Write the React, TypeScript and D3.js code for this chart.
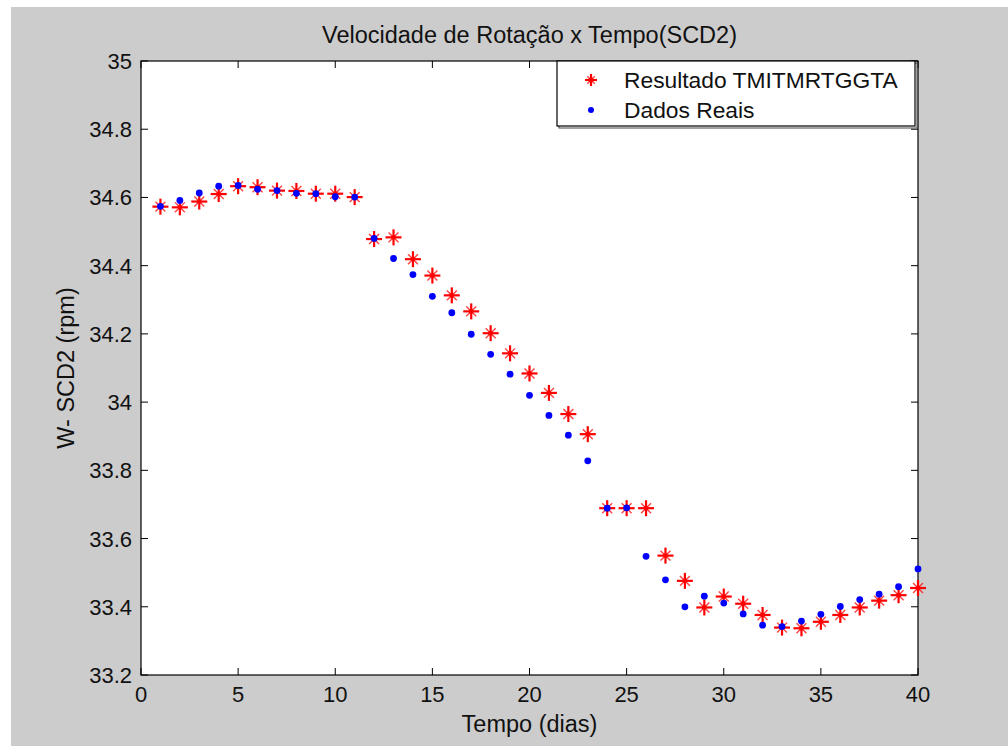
import React from "react";
import * as d3 from "d3";

const days = Array.from({ length: 40 }, (_, i) => i + 1);
const resultado = [
  34.573, 34.571, 34.588, 34.610, 34.633, 34.630, 34.620, 34.619, 34.611, 34.611,
  34.601, 34.478, 34.483, 34.419, 34.371, 34.313, 34.266, 34.202, 34.143, 34.084,
  34.027, 33.965, 33.906, 33.689, 33.689, 33.689, 33.550, 33.476, 33.398, 33.430,
  33.409, 33.376, 33.339, 33.337, 33.356, 33.376, 33.398, 33.418, 33.434, 33.455,
];
const dadosReais = [
  34.574, 34.591, 34.613, 34.633, 34.635, 34.624, 34.620, 34.612, 34.611, 34.602,
  34.601, 34.480, 34.421, 34.374, 34.310, 34.262, 34.199, 34.140, 34.082, 34.020,
  33.961, 33.903, 33.828, 33.689, 33.690, 33.548, 33.479, 33.400, 33.431, 33.411,
  33.379, 33.346, 33.342, 33.358, 33.378, 33.401, 33.421, 33.437, 33.459, 33.511,
];
const xTicks = [0, 5, 10, 15, 20, 25, 30, 35, 40];
const yTicks = [33.2, 33.4, 33.6, 33.8, 34, 34.2, 34.4, 34.6, 34.8, 35];
const legendLabels = ["Resultado TMITMRTGGTA", "Dados Reais"];

const W = 1008, H = 746;
const L = 141, R = 918, T = 61, B = 675;
const FONT = "'Liberation Sans', Arial, sans-serif";
const FS = 22;
const FL = 23.5;
const FLEG = 22.8;

function Star({ x, y, s = 8 }: { x: number; y: number; s?: number }) {
  const d = s * 0.62;
  return (
    <g stroke="#ff0000" strokeLinecap="butt">
      <line x1={x - d} y1={y - d} x2={x + d} y2={y + d} strokeWidth={1.4} strokeOpacity={0.75} />
      <line x1={x - d} y1={y + d} x2={x + d} y2={y - d} strokeWidth={1.4} strokeOpacity={0.75} />
      <line x1={x - s} y1={y} x2={x + s} y2={y} strokeWidth={2.2} />
      <line x1={x} y1={y - s} x2={x} y2={y + s} strokeWidth={2.2} />
      <circle cx={x} cy={y} r={2.4} fill="#ff0000" stroke="none" />
    </g>
  );
}

export default function App() {
  const x = d3.scaleLinear().domain([0, 40]).range([L, R]);
  const y = d3.scaleLinear().domain([33.2, 35]).range([B, T]);
  const tl = 7;
  return (
    <svg width={W} height={H} style={{ position: "absolute", left: 0, top: 0 }} fontFamily={FONT}>
      <rect x={0} y={0} width={W} height={H} fill="#ffffff" />
      <rect x={11} y={7} width={W - 11} height={H - 7} fill="#cccccc" />
      <rect x={L} y={T} width={R - L} height={B - T} fill="#ffffff" />
      {xTicks.map((t) => (
        <g key={"xt" + t} stroke="#000" strokeWidth={1}>
          <line x1={x(t)} x2={x(t)} y1={B} y2={B - tl} />
          <line x1={x(t)} x2={x(t)} y1={T} y2={T + tl} />
        </g>
      ))}
      {yTicks.map((t) => (
        <g key={"yt" + t} stroke="#000" strokeWidth={1}>
          <line x1={L} x2={L + tl} y1={y(t)} y2={y(t)} />
          <line x1={R} x2={R - tl} y1={y(t)} y2={y(t)} />
        </g>
      ))}
      <rect x={L} y={T} width={R - L} height={B - T} fill="none" stroke="#000" strokeWidth={1.2} />
      {xTicks.map((t) => (
        <text key={"xl" + t} x={x(t)} y={B + 27} fontSize={FS} textAnchor="middle" fill="#111">
          {t}
        </text>
      ))}
      {yTicks.map((t) => (
        <text key={"yl" + t} x={L - 9} y={y(t) + 8} fontSize={FS} textAnchor="end" fill="#111">
          {d3.format("")(+t.toFixed(1))}
        </text>
      ))}
      <text x={(L + R) / 2} y={43} fontSize={FL} textAnchor="middle" fill="#111">
        Velocidade de Rotação x Tempo(SCD2)
      </text>
      <text x={(L + R) / 2} y={732} fontSize={FL} textAnchor="middle" fill="#111">
        Tempo (dias)
      </text>
      <text transform={`translate(74,${(T + B) / 2}) rotate(-90)`} fontSize={FL} textAnchor="middle" fill="#111">
        W- SCD2 (rpm)
      </text>
      {days.map((d, i) => (
        <Star key={"r" + d} x={x(d)} y={y(resultado[i])} />
      ))}
      {days.map((d, i) => (
        <circle key={"b" + d} cx={x(d)} cy={y(dadosReais[i])} r={3.4} fill="#0000ff" />
      ))}
      <rect x={559} y={T + 2} width={358} height={65} fill="none" stroke="#444" strokeWidth={1} />
      <rect x={557} y={T} width={358} height={65} fill="#ffffff" stroke="#000" strokeWidth={1.2} />
      <Star x={591} y={80} s={6} />
      <text x={624} y={88} fontSize={FLEG} fill="#111">{legendLabels[0]}</text>
      <circle cx={591} cy={110} r={3} fill="#0000ff" />
      <text x={624} y={118} fontSize={FLEG} fill="#111">{legendLabels[1]}</text>
    </svg>
  );
}
